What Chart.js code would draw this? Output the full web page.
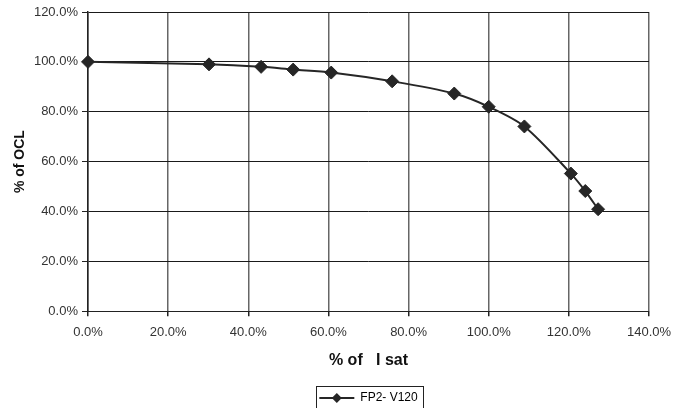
<!DOCTYPE html>
<html>
<head>
<meta charset="utf-8">
<script src="https://cdn.jsdelivr.net/npm/chart.js@4.4.1/dist/chart.umd.min.js"></script>
<style>
  html, body { margin: 0; padding: 0; background: #fff; }
  #wrap { width: 688px; height: 408px; }
</style>
</head>
<body>
<div id="wrap"><canvas id="chart"></canvas></div>
<script>
// % of I sat (x) and % of OCL (y)
const isatPct = [0, 30.2, 43.2, 51.2, 60.7, 75.9, 91.4, 100, 108.9, 120.5, 124.1, 127.3];
const oclPct  = [100, 99.0, 98.0, 96.9, 95.7, 92.2, 87.3, 82.0, 74.1, 55.2, 48.2, 40.9];
const seriesName = "FP2- V120";
const xTicks = [0, 20, 40, 60, 80, 100, 120, 140];
const yTicks = [0, 20, 40, 60, 80, 100, 120];

const FONT = "'Liberation Sans', Arial, Helvetica, sans-serif";
const INK = "#262626";

// legend sits under the middle of the plot, in a thin box
const legendDecor = {
  id: "legendDecor",
  afterLayout(chart) {
    const lg = chart.legend;
    if (!lg) return;
    const shift = (chart.chartArea.left + chart.chartArea.right) / 2 - (lg.left + lg.right) / 2;
    lg.left += shift;
    lg.right += shift;
    (lg.legendHitBoxes || []).forEach(h => { h.left += shift; });
  },
  afterDraw(chart) {
    const lg = chart.legend;
    if (!lg || !lg.legendHitBoxes || !lg.legendHitBoxes.length) return;
    const hb = lg.legendHitBoxes[0];
    const bw = lg.options.labels.boxWidth;
    const ctx = chart.ctx;
    const cx = hb.left + bw / 2;
    const cy = hb.top + hb.height / 2;
    ctx.save();
    ctx.fillStyle = INK;
    ctx.beginPath();
    ctx.moveTo(cx, cy - 5);
    ctx.lineTo(cx + 5, cy);
    ctx.lineTo(cx, cy + 5);
    ctx.lineTo(cx - 5, cy);
    ctx.closePath();
    ctx.fill();
    ctx.strokeStyle = "#222";
    ctx.lineWidth = 1;
    ctx.strokeRect(Math.round(hb.left - 3) + 0.5, Math.round(cy - 12) + 0.5,
      Math.round(hb.width + 9), 40);
    ctx.restore();
  }
};

new Chart(document.getElementById("chart"), {
  type: "line",
  data: {
    datasets: [{
      label: seriesName,
      data: isatPct.map((x, i) => ({ x: x, y: oclPct[i] })),
      borderColor: INK,
      backgroundColor: INK,
      borderWidth: 2,
      tension: 0.3,
      clip: false,
      pointStyle: "rectRot",
      pointRadius: 6.5,
      pointHoverRadius: 6.5,
      pointBackgroundColor: INK,
      pointBorderColor: INK,
      pointBorderWidth: 1
    }]
  },
  options: {
    responsive: true,
    maintainAspectRatio: false,
    animation: false,
    layout: { padding: { left: 6, right: 39, top: 12, bottom: -6 } },
    plugins: {
      tooltip: { enabled: false },
      legend: {
        position: "bottom",
        labels: {
          font: { family: FONT, size: 12 },
          color: "#222",
          boxWidth: 35,
          boxHeight: 2,
          padding: 8,
          generateLabels: () => [{
            text: seriesName,
            fillStyle: INK,
            strokeStyle: INK,
            lineWidth: 0,
            datasetIndex: 0
          }]
        }
      }
    },
    scales: {
      x: {
        type: "linear",
        min: 0,
        max: 140,
        afterBuildTicks: (axis) => { axis.ticks = xTicks.map(v => ({ value: v })); },
        ticks: {
          font: { family: FONT, size: 13 },
          color: "#333",
          padding: 8,
          callback: (v) => v.toFixed(1) + "%"
        },
        grid: {
          color: "#666",
          lineWidth: 1.5,
          tickLength: 5,
          tickColor: "#222"
        },
        border: { display: true, color: "#222", width: 1 },
        title: {
          display: true,
          text: "% of   I sat",
          font: { family: FONT, size: 16, weight: "bold" },
          color: "#111",
          padding: { top: 3, bottom: 14 }
        }
      },
      y: {
        type: "linear",
        min: 0,
        max: 120,
        afterBuildTicks: (axis) => { axis.ticks = yTicks.map(v => ({ value: v })); },
        afterFit: (axis) => { axis.width = 82; },
        ticks: {
          font: { family: FONT, size: 13 },
          color: "#333",
          padding: 4,
          callback: (v) => v.toFixed(1) + "%"
        },
        grid: {
          color: "#1a1a1a",
          lineWidth: 1,
          tickLength: 6,
          tickColor: "#222"
        },
        border: { display: true, color: "#222", width: 1.5 },
        title: {
          display: true,
          text: "% of OCL",
          font: { family: FONT, size: 14, weight: "bold" },
          color: "#111",
          padding: { top: 6, bottom: 0 }
        }
      }
    }
  },
  plugins: [legendDecor]
});
</script>
</body>
</html>
